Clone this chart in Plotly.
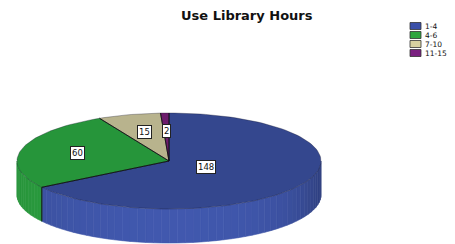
import numpy as np
import plotly.graph_objects as go

# ---- data ----
categories = ["1-4", "4-6", "7-10", "11-15"]
counts = [148, 60, 15, 2]
title_text = "Use Library Hours"

# ---- styles ----
top_colors = ["#34478e", "#26953a", "#b8b38d", "#6c1c6c"]
side_colors = ["#3d53a4", "#2a9b3e", "#c2bd95", "#752075"]
legend_colors = ["#3a4fa8", "#2ea63e", "#d8d2a0", "#7a2080"]

W, H = 455, 244
CX, CY, A, B, DEPTH = 169, 161, 152, 48, 34


def ell(t_deg, dy=0.0):
    t = np.radians(t_deg)
    return CX + A * np.sin(t), CY - B * np.cos(t) + dy


def shade(hex_color, f):
    h = hex_color.lstrip("#")
    r, g, b = (int(h[i:i + 2], 16) for i in (0, 2, 4))
    c = [max(0, min(255, int(round(v * f)))) for v in (r, g, b)]
    return "rgb({},{},{})".format(*c)


total = sum(counts)
bounds = [0.0]
for v in counts:
    bounds.append(bounds[-1] + 360.0 * v / total)

fig = go.Figure()

# ---- side walls (front half: 90..270 deg) ----
for i in range(len(counts)):
    s0, s1 = max(bounds[i], 90.0), min(bounds[i + 1], 270.0)
    if s1 <= s0:
        continue
    n = max(1, int(np.ceil((s1 - s0) / 3.0)))
    edges = np.linspace(s0, s1, n + 1)
    for k in range(n):
        ts = np.linspace(edges[k], edges[k + 1], 4)
        xt, yt = ell(ts)
        xb, yb = ell(ts[::-1], DEPTH)
        xs = np.concatenate([xt, xb, xt[:1]])
        ys = np.concatenate([yt, yb, yt[:1]])
        sx = np.sin(np.radians((edges[k] + edges[k + 1]) / 2))
        f = 1.06 - 0.10 * sx ** 2 - 0.18 * max(sx, 0) ** 6
        col = shade(side_colors[i], f)
        fig.add_trace(go.Scatter(x=xs, y=ys, mode="lines", fill="toself",
                                 fillcolor=col, line=dict(color=col, width=0.6),
                                 hoverinfo="skip", showlegend=False))

# seams on the side
for bnd in bounds[1:-1]:
    if 90 < bnd < 270:
        x0, y0 = ell(bnd)
        x1, y1 = ell(bnd, DEPTH)
        fig.add_trace(go.Scatter(x=[x0, x1], y=[y0, y1], mode="lines",
                                 line=dict(color="#111", width=1),
                                 hoverinfo="skip", showlegend=False))

# ---- top faces ----
for i in range(len(counts)):
    ts = np.linspace(bounds[i], bounds[i + 1], max(3, int((bounds[i + 1] - bounds[i]) / 2) + 2))
    xa, ya = ell(ts)
    xs = np.concatenate([[CX], xa, [CX]])
    ys = np.concatenate([[CY], ya, [CY]])
    fig.add_trace(go.Scatter(x=xs, y=ys, mode="lines", fill="toself",
                             fillcolor=top_colors[i],
                             line=dict(color="rgba(20,20,40,0.45)", width=0.7),
                             hoverinfo="skip", showlegend=False))

# radial seams
for bnd in bounds[:-1]:
    x1, y1 = ell(bnd)
    fig.add_trace(go.Scatter(x=[CX, x1], y=[CY, y1], mode="lines",
                             line=dict(color="#111", width=0.9),
                             hoverinfo="skip", showlegend=False))

# ---- value labels ----
annotations = []
for i, v in enumerate(counts):
    mid = (bounds[i] + bounds[i + 1]) / 2
    r = 0.28 if v / total > 0.5 else 0.62
    t = np.radians(mid)
    annotations.append(dict(
        x=CX + r * A * np.sin(t), y=CY - r * B * np.cos(t), xref="x", yref="y",
        text=str(v), showarrow=False,
        font=dict(family="DejaVu Sans, Arial", size=8.5, color="#111"),
        bgcolor="white", bordercolor="#222", borderwidth=1, borderpad=1))

# ---- title ----
annotations.append(dict(x=247, y=15, xref="x", yref="y", text="<b>" + title_text + "</b>",
                        showarrow=False,
                        font=dict(family="DejaVu Sans, Arial", size=13, color="#111")))

# ---- legend (manual) ----
shapes = []
for i, c in enumerate(categories):
    yc = 26 + i * 9
    shapes.append(dict(type="rect", xref="x", yref="y", x0=410, x1=421,
                       y0=yc - 3.5, y1=yc + 3.5, fillcolor=legend_colors[i],
                       line=dict(color="#333", width=0.8)))
    annotations.append(dict(x=423, y=yc, xref="x", yref="y", text=c, showarrow=False,
                            xanchor="left", yanchor="middle",
                            font=dict(family="DejaVu Sans, Arial", size=7.5, color="#111")))

fig.update_layout(
    width=W, height=H, margin=dict(l=0, r=0, t=0, b=0),
    paper_bgcolor="white", plot_bgcolor="white",
    xaxis=dict(range=[0, W], visible=False, fixedrange=True),
    yaxis=dict(range=[H, 0], visible=False, fixedrange=True),
    annotations=annotations, shapes=shapes, showlegend=False,
)

fig.write_html("out.html", config={"displayModeBar": False},
               post_script="document.body.style.margin='0';")
